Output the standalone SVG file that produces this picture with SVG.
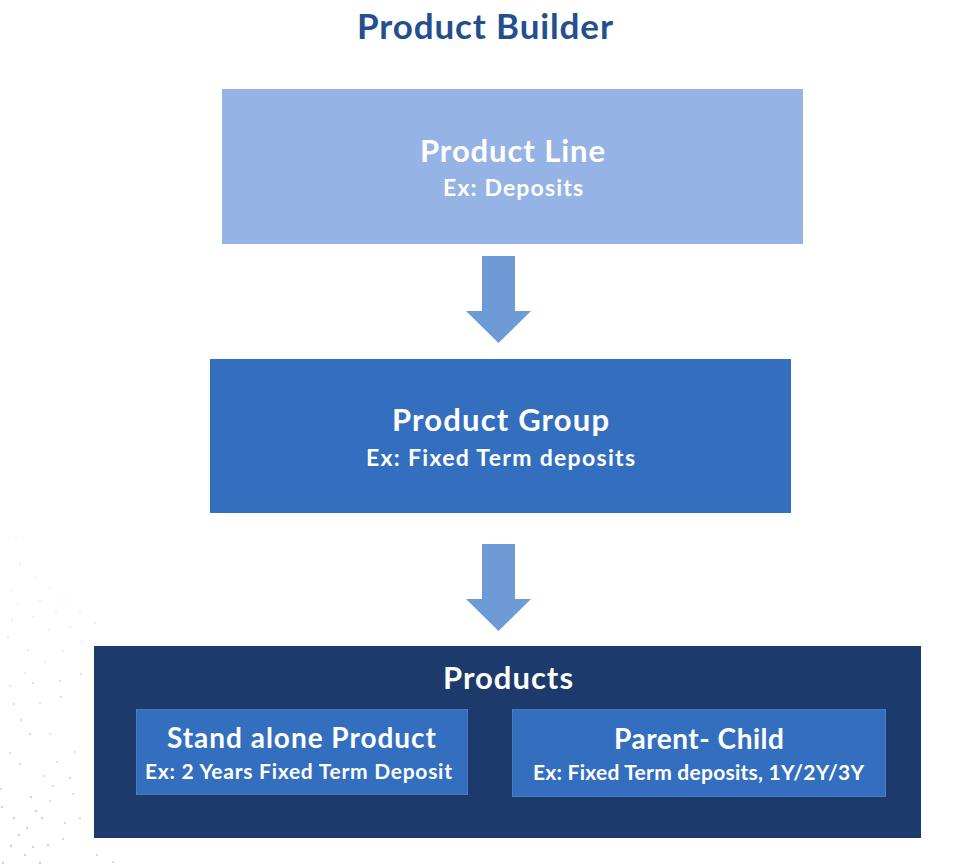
<svg xmlns="http://www.w3.org/2000/svg" width="958" height="868" viewBox="0 0 958 868">
<style>
text { font-family: Lato, "Open Sans", "Liberation Sans", sans-serif; font-weight: bold; fill: #ffffff; text-anchor: middle; }
.title { fill: #234F8E; font-size: 35px; }
.head { font-size: 31px; }
.sub { font-size: 23px; }
.head2 { font-size: 28px; }
.sub2 { font-size: 21px; }
.arrow { fill: #6E9BD6; }
.dot { fill: #c8d3e8; }
</style>
<rect width="958" height="868" fill="#ffffff"/>
<g id="dots">
<circle class="dot" cx="16" cy="538" r="0.7"/><circle class="dot" cx="20" cy="564" r="0.7"/><circle class="dot" cx="35" cy="578" r="0.7"/><circle class="dot" cx="11" cy="590" r="0.7"/><circle class="dot" cx="50" cy="587" r="0.7"/><circle class="dot" cx="18" cy="605" r="0.7"/><circle class="dot" cx="40" cy="601" r="0.7"/><circle class="dot" cx="64" cy="600" r="0.7"/><circle class="dot" cx="12" cy="620" r="0.7"/><circle class="dot" cx="33" cy="617" r="0.7"/><circle class="dot" cx="56" cy="613" r="0.7"/><circle class="dot" cx="80" cy="613" r="0.7"/><circle class="dot" cx="8" cy="637" r="0.8"/><circle class="dot" cx="28" cy="650" r="0.8"/><circle class="dot" cx="49" cy="630" r="0.8"/><circle class="dot" cx="70" cy="627" r="0.8"/><circle class="dot" cx="95" cy="623" r="0.8"/><circle class="dot" cx="25" cy="673" r="0.8"/><circle class="dot" cx="45" cy="662" r="0.8"/><circle class="dot" cx="63" cy="651" r="0.8"/><circle class="dot" cx="82" cy="642" r="0.8"/><circle class="dot" cx="10" cy="686" r="0.9"/><circle class="dot" cx="33" cy="683" r="0.9"/><circle class="dot" cx="60" cy="681" r="0.9"/><circle class="dot" cx="81" cy="674" r="0.9"/><circle class="dot" cx="14" cy="704" r="1"/><circle class="dot" cx="40" cy="703" r="0.9"/><circle class="dot" cx="61" cy="697" r="0.9"/><circle class="dot" cx="21" cy="720" r="1.1"/><circle class="dot" cx="50" cy="734" r="0.9"/><circle class="dot" cx="30" cy="734" r="1"/><circle class="dot" cx="10" cy="753" r="1.1"/><circle class="dot" cx="20" cy="764" r="1.1"/><circle class="dot" cx="44" cy="776" r="1"/><circle class="dot" cx="57" cy="762" r="0.9"/><circle class="dot" cx="75" cy="752" r="0.9"/><circle class="dot" cx="1" cy="789" r="1.1"/><circle class="dot" cx="31" cy="797" r="1.2"/><circle class="dot" cx="53" cy="786" r="1"/><circle class="dot" cx="70" cy="778" r="1"/><circle class="dot" cx="2" cy="807" r="1.2"/><circle class="dot" cx="36" cy="811" r="1.2"/><circle class="dot" cx="50" cy="801" r="1.1"/><circle class="dot" cx="73" cy="794" r="1"/><circle class="dot" cx="14" cy="818" r="1.2"/><circle class="dot" cx="27" cy="828" r="1.2"/><circle class="dot" cx="42" cy="818" r="1.2"/><circle class="dot" cx="65" cy="823" r="1.1"/><circle class="dot" cx="80" cy="818" r="1.1"/><circle class="dot" cx="19" cy="835" r="1.2"/><circle class="dot" cx="33" cy="847" r="1.2"/><circle class="dot" cx="48" cy="845" r="1.2"/><circle class="dot" cx="63" cy="839" r="1.1"/><circle class="dot" cx="11" cy="846" r="1.2"/><circle class="dot" cx="25" cy="855" r="1.2"/><circle class="dot" cx="40" cy="863" r="1.2"/><circle class="dot" cx="3" cy="863" r="1.2"/><circle class="dot" cx="97" cy="855" r="1"/><circle class="dot" cx="113" cy="862" r="1"/>
</g>
<text class="title" x="485" y="39" textLength="256" lengthAdjust="spacing">Product Builder</text>
<g id="connectors">
<path class="arrow" d="M482,256 H515 V311 H531 L498.5,343 L466,311 H482 Z"/>
<path class="arrow" d="M482,544 H515 V599 H531 L498.5,631 L466,599 H482 Z"/>
</g>
<g id="product-line">
<rect x="222" y="89" width="581" height="155" fill="#95B3E4"/>
<text class="head" x="512.5" y="162" textLength="185" lengthAdjust="spacing">Product Line</text>
<text class="sub" x="513" y="196" textLength="140" lengthAdjust="spacing">Ex: Deposits</text>
</g>
<g id="product-group">
<rect x="210" y="359" width="581" height="154" fill="#346FBF"/>
<text class="head" x="500.5" y="431" textLength="217" lengthAdjust="spacing">Product Group</text>
<text class="sub" x="500.5" y="466" textLength="269" lengthAdjust="spacing">Ex: Fixed Term deposits</text>
</g>
<g id="products">
<rect x="94" y="646" width="827" height="192" fill="#1C3A6B"/>
<text class="head" x="508" y="689" textLength="130" lengthAdjust="spacing">Products</text>
</g>
<g id="stand-alone">
<rect x="136.5" y="709.5" width="331" height="85" fill="#346FBF" stroke="#4A7CC0" stroke-width="1"/>
<text class="head2" x="301.5" y="748" textLength="269" lengthAdjust="spacing">Stand alone Product</text>
<text class="sub2" x="298.5" y="779" textLength="307" lengthAdjust="spacing">Ex: 2 Years Fixed Term Deposit</text>
</g>
<g id="parent-child">
<rect x="512.5" y="709.5" width="373" height="87" fill="#346FBF" stroke="#4A7CC0" stroke-width="1"/>
<text class="head2" x="699" y="749" textLength="170" lengthAdjust="spacing">Parent- Child</text>
<text class="sub2" x="698.5" y="780" textLength="331" lengthAdjust="spacing">Ex: Fixed Term deposits, 1Y/2Y/3Y</text>
</g>
</svg>
